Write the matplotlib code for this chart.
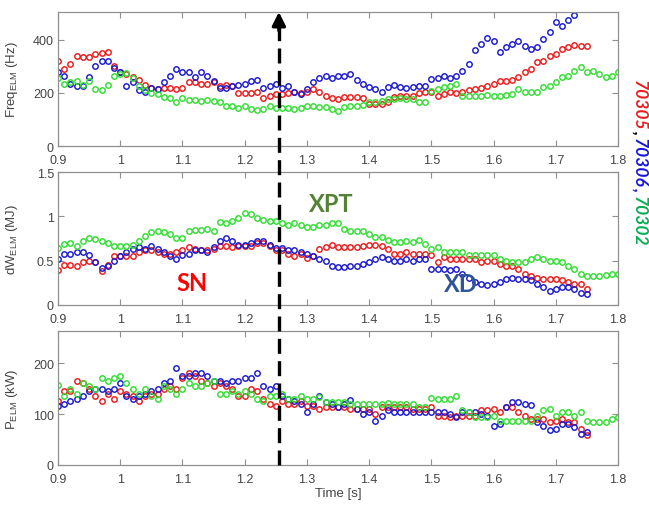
import matplotlib
matplotlib.use("Agg")
import matplotlib.pyplot as plt
import matplotlib.transforms as mtransforms
from matplotlib.lines import Line2D
import numpy as np

plt.rcParams['font.family'] = ['Liberation Sans', 'DejaVu Sans']
plt.rcParams['mathtext.fontset'] = 'custom'
plt.rcParams['mathtext.rm'] = 'Liberation Sans'
plt.rcParams['mathtext.default'] = 'regular'

# tiempos de muestreo (s)
t_red = np.round(np.arange(0.90, 1.755, 0.01), 2)
t_blue1 = np.round(np.arange(0.90, 1.735, 0.01), 2)
t_blue = np.round(np.arange(0.90, 1.755, 0.01), 2)
t_green = np.round(np.arange(0.90, 1.805, 0.01), 2)

# Freq_ELM (Hz)
freq_red = [320, 290, 310, 340, 335, 335, 345, 350, 355, 300,
            280, 270, 260, 250, 230, 220, 215, 220, 220, 215,
            220, 240, 240, 235, 235, 240, 225, 230, 225, 200,
            200, 200, 205, 180, 190, 195, 195, 200, 205, 200,
            205, 215, 205, 190, 180, 178, 183, 185, 183, 180,
            160, 158, 160, 165, 185, 190, 190, 188, 200, 203,
            205, 190, 195, 203, 200, 205, 212, 215, 220, 228,
            232, 246, 245, 250, 259, 280, 290, 315, 322, 340,
            347, 365, 372, 380, 375, 378]
freq_blue = [280, 265, 235, 225, 225, 260, 300, 320, 320, 295,
             280, 225, 240, 210, 205, 220, 215, 240, 265, 290,
             280, 280, 260, 280, 265, 245, 220, 220, 225, 230,
             235, 245, 250, 220, 225, 235, 220, 225, 205, 195,
             215, 240, 255, 262, 255, 265, 262, 272, 247, 234,
             221, 215, 203, 221, 230, 222, 220, 222, 228, 226,
             253, 256, 262, 258, 262, 284, 309, 360, 385, 406,
             395, 353, 372, 385, 397, 378, 366, 372, 404, 429,
             467, 454, 473, 492]
freq_green = [256, 235, 240, 245, 230, 245, 215, 210, 230, 265,
              270, 275, 255, 225, 210, 200, 195, 185, 180, 165,
              180, 175, 175, 170, 175, 170, 165, 150, 150, 145,
              150, 140, 135, 140, 150, 145, 145, 145, 140, 145,
              150, 150, 146, 146, 140, 133, 146, 152, 152, 155,
              165, 165, 168, 177, 177, 180, 178, 177, 165, 165,
              209, 215, 221, 228, 234, 190, 190, 188, 190, 192,
              190, 190, 192, 196, 215, 205, 203, 203, 221, 228,
              240, 259, 265, 284, 297, 277, 284, 272, 259, 265,
              277]

# dW_ELM (MJ)
dw_red = [0.40, 0.45, 0.45, 0.44, 0.48, 0.50, 0.48, 0.38, 0.45, 0.55,
          0.55, 0.55, 0.55, 0.60, 0.62, 0.62, 0.60, 0.58, 0.58, 0.60,
          0.62, 0.65, 0.63, 0.62, 0.62, 0.63, 0.66, 0.66, 0.65, 0.66,
          0.66, 0.66, 0.70, 0.70, 0.66, 0.62, 0.62, 0.58, 0.55, 0.57,
          0.53, 0.55, 0.63, 0.65, 0.68, 0.65, 0.65, 0.65, 0.65, 0.66,
          0.68, 0.68, 0.66, 0.63, 0.58, 0.58, 0.60, 0.58, 0.58, 0.58,
          0.56, 0.48, 0.54, 0.52, 0.52, 0.52, 0.52, 0.52, 0.48, 0.50,
          0.50, 0.46, 0.44, 0.44, 0.41, 0.35, 0.33, 0.31, 0.29, 0.29,
          0.29, 0.28, 0.26, 0.24, 0.24, 0.18]
dw_blue = [0.52, 0.57, 0.58, 0.60, 0.60, 0.56, 0.48, 0.42, 0.44, 0.50,
           0.55, 0.60, 0.63, 0.65, 0.63, 0.66, 0.63, 0.60, 0.55, 0.52,
           0.56, 0.58, 0.62, 0.62, 0.60, 0.65, 0.72, 0.76, 0.72, 0.68,
           0.68, 0.70, 0.72, 0.72, 0.68, 0.64, 0.64, 0.62, 0.62, 0.60,
           0.57, 0.55, 0.52, 0.50, 0.44, 0.43, 0.43, 0.44, 0.44, 0.46,
           0.48, 0.52, 0.54, 0.52, 0.50, 0.50, 0.52, 0.50, 0.52, 0.52,
           0.41, 0.41, 0.41, 0.40, 0.41, 0.35, 0.31, 0.26, 0.24, 0.23,
           0.24, 0.26, 0.29, 0.31, 0.29, 0.29, 0.28, 0.24, 0.20, 0.16,
           0.18, 0.20, 0.20, 0.18, 0.14, 0.12]
dw_green = [0.64, 0.69, 0.70, 0.66, 0.72, 0.76, 0.75, 0.72, 0.70, 0.66,
            0.66, 0.66, 0.68, 0.72, 0.78, 0.82, 0.84, 0.82, 0.80, 0.76,
            0.76, 0.84, 0.85, 0.85, 0.86, 0.84, 0.94, 0.92, 0.95, 0.98,
            1.04, 1.03, 0.98, 0.96, 0.95, 0.95, 0.93, 0.90, 0.92, 0.90,
            0.88, 0.88, 0.90, 0.90, 0.93, 0.92, 0.86, 0.84, 0.84, 0.84,
            0.80, 0.77, 0.77, 0.73, 0.71, 0.71, 0.72, 0.71, 0.73, 0.69,
            0.63, 0.65, 0.60, 0.60, 0.60, 0.60, 0.56, 0.56, 0.56, 0.56,
            0.56, 0.52, 0.50, 0.48, 0.48, 0.48, 0.52, 0.54, 0.52, 0.50,
            0.50, 0.48, 0.44, 0.41, 0.35, 0.33, 0.33, 0.33, 0.34, 0.35,
            0.35]

# P_ELM (kW)
p_red = [125, 145, 145, 165, 160, 150, 135, 125, 140, 130,
         145, 140, 135, 125, 135, 140, 140, 150, 155, 150,
         170, 180, 175, 165, 160, 155, 160, 155, 150, 135,
         135, 150, 145, 130, 120, 115, 125, 120, 120, 125,
         115, 115, 110, 113, 113, 113, 113, 110, 110, 110,
         110, 100, 113, 113, 113, 113, 113, 110, 110, 110,
         113, 97, 97, 94, 97, 97, 97, 97, 107, 107,
         110, 104, 113, 113, 104, 97, 90, 90, 90, 84,
         87, 90, 84, 84, 71, 58]
p_blue = [115, 120, 125, 130, 135, 145, 150, 150, 145, 150,
          160, 135, 130, 135, 140, 145, 150, 160, 165, 190,
          175, 175, 180, 180, 175, 165, 165, 160, 165, 165,
          170, 170, 180, 155, 150, 155, 135, 130, 125, 120,
          105, 120, 136, 123, 120, 113, 120, 127, 110, 100,
          104, 87, 97, 107, 104, 104, 104, 104, 104, 104,
          104, 104, 104, 100, 94, 104, 104, 104, 100, 97,
          77, 81, 113, 123, 123, 120, 118, 84, 77, 68,
          71, 81, 81, 74, 61, 64]
p_green = [157, 135, 150, 140, 160, 155, 150, 170, 165, 170,
           175, 160, 150, 140, 150, 135, 130, 155, 150, 140,
           150, 160, 155, 155, 160, 165, 140, 140, 145, 140,
           145, 140, 130, 125, 135, 135, 140, 130, 130, 135,
           130, 130, 133, 123, 123, 123, 123, 120, 120, 120,
           120, 120, 120, 122, 120, 120, 120, 120, 113, 113,
           131, 130, 130, 130, 135, 107, 104, 94, 94, 94,
           97, 87, 87, 87, 87, 87, 87, 97, 107, 110,
           97, 104, 104, 97, 104, 87, 84, 84, 84, 90,
           94]

x_ticks = [0.9, 1.0, 1.1, 1.2, 1.3, 1.4, 1.5, 1.6, 1.7, 1.8]
x_ticklabels = ['0.9', '1', '1.1', '1.2', '1.3', '1.4', '1.5', '1.6', '1.7', '1.8']
t_switch = 1.255

RED = '#ee1c1c'
BLUE = '#1a1ad0'
GREEN = '#33dd33'

fig = plt.figure(figsize=(6.49, 5.06), dpi=100)
left, width = 58 / 649, 560 / 649
ax1 = fig.add_axes([left, 359 / 506, width, 134 / 506])
ax2 = fig.add_axes([left, 200 / 506, width, 133 / 506])
ax3 = fig.add_axes([left, 40 / 506, width, 134 / 506])

paneles = [
    (ax1, t_blue1, freq_red, freq_blue, freq_green, (0, 505), [0, 200, 400], ['0', '200', '400'],
     'Freq$_{ELM}$ (Hz)'),
    (ax2, t_blue, dw_red, dw_blue, dw_green, (0, 1.5), [0, 0.5, 1, 1.5], ['0', '0.5', '1', '1.5'],
     'dW$_{ELM}$ (MJ)'),
    (ax3, t_blue, p_red, p_blue, p_green, (0, 263), [0, 100, 200], ['0', '100', '200'],
     'P$_{ELM}$ (kW)'),
]

for ax, tb, yr, yb, yg, ylim, yt, ytl, ylab in paneles:
    kw = dict(ls='none', marker='o', ms=3.9, mfc='none', mew=1.05)
    ax.plot(t_red, yr, color=RED, **kw)
    ax.plot(tb, yb, color=BLUE, **kw)
    ax.plot(t_green, yg, color=GREEN, **kw)
    ax.set_xlim(0.9, 1.8)
    ax.set_ylim(*ylim)
    ax.set_xticks(x_ticks)
    ax.set_xticklabels(x_ticklabels)
    ax.set_yticks(yt)
    ax.set_yticklabels(ytl)
    ax.tick_params(direction='in', top=True, right=True, length=4, width=0.8,
                   colors='#909090', labelcolor='#444444', labelsize=9, pad=3)
    ax.tick_params(axis='x', pad=5.5)
    for sp in ax.spines.values():
        sp.set_color('#909090')
        sp.set_linewidth(0.9)
    ax.set_ylabel(ylab, fontsize=9.5, color='#444444')
    ax.yaxis.set_label_coords(-0.068, 0.5)

ax3.set_xlabel('Time [s]', fontsize=9.5, color='#444444', labelpad=2)

# etiquetas de configuracion
ax2.text(1.115, 0.25, 'SN', color='#ff0000', fontsize=17, fontweight='bold',
         family=['Lato', 'DejaVu Sans'], ha='center', va='center')
ax2.text(1.339, 1.15, 'XPT', color='#548235', fontsize=17, fontweight='bold',
         family=['Lato', 'DejaVu Sans'], ha='center', va='center')
ax2.text(1.548, 0.24, 'XD', color='#2f5597', fontsize=17, fontweight='bold',
         family=['Lato', 'DejaVu Sans'], ha='center', va='center')

# flecha discontinua en t = 1.255 s
tr = mtransforms.blended_transform_factory(ax1.transData, fig.transFigure)
y_bot = 40 / 506
y_top = 1 - 13 / 506
fig.add_artist(Line2D([t_switch, t_switch], [y_bot, y_top - 0.03], transform=tr,
                      color='black', lw=2.4, ls=(0, (4.5, 2.2))))
ax1.annotate('', xy=(t_switch, 1.0), xycoords=('data', 'axes fraction'),
             xytext=(t_switch, 0.86), textcoords=('data', 'axes fraction'),
             arrowprops=dict(arrowstyle='-|>', color='black', lw=2.4,
                             mutation_scale=20, shrinkA=0, shrinkB=0))

# numeros de descarga en vertical
piezas = [('70305', RED), (', ', 'black'), ('70306', '#1515e0'), (', ', '#1515e0'),
          ('70302', '#00b050')]
renderer = fig.canvas.get_renderer()
y = 1 - 80 / 506
for s, c in piezas:
    txt = fig.text(634 / 649, y, s, color=c, rotation=-90, rotation_mode='anchor',
                   ha='left', va='baseline', fontsize=12.5, fontweight='bold',
                   fontstyle='italic', family=['Lato', 'DejaVu Sans'])
    bb = txt.get_window_extent(renderer)
    y = bb.y0 / fig.bbox.height

fig.savefig('out.png', dpi=100)
